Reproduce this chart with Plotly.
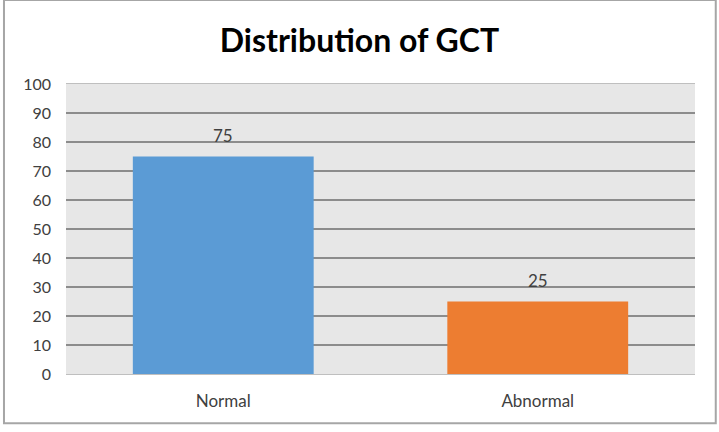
import plotly.graph_objects as go

categories = ["Normal", "Abnormal"]
values = [75, 25]
colors = ["#5b9bd5", "#ed7d31"]
y_ticks = [0, 10, 20, 30, 40, 50, 60, 70, 80, 90, 100]

FONT = "Lato, sans-serif"

fig = go.Figure()
fig.add_trace(go.Bar(
    x=categories, y=values,
    marker=dict(color=colors, line=dict(width=0)),
    width=0.575,
))

for c, v in zip(categories, values):
    fig.add_annotation(x=c, y=v, text=str(v), showarrow=False,
                       yanchor="middle", yshift=21,
                       font=dict(family=FONT, size=17, color="#404040"))

fig.update_layout(
    width=719, height=432,
    margin=dict(l=66, r=24, t=84, b=58),
    paper_bgcolor="white",
    plot_bgcolor="#e7e7e7",
    title=dict(text="<b>Distribution of GCT</b>", x=0.5, xanchor="center",
               y=0.905, yanchor="middle",
               font=dict(family=FONT, size=32, color="black")),
    showlegend=False,
    xaxis=dict(showgrid=False, showline=True, linecolor="#bfbfbf", linewidth=1,
               mirror=True, ticks="", ticklabelstandoff=12,
               tickfont=dict(family=FONT, size=17, color="#404040")),
    yaxis=dict(range=[0, 100], tickvals=y_ticks, showgrid=True,
               gridcolor="#8c8c8c", gridwidth=2, zeroline=False,
               showline=False, ticks="",
               tickfont=dict(family=FONT, size=16, color="#404040"),
               ticklabelstandoff=14),
    shapes=[dict(type="rect", xref="paper", yref="paper",
                 x0=-0.0986, x1=1.033, y0=-0.17, y1=1.29,
                 line=dict(color="#a6a6a6", width=2), layer="below")],
)

fig.write_html("out.html")
